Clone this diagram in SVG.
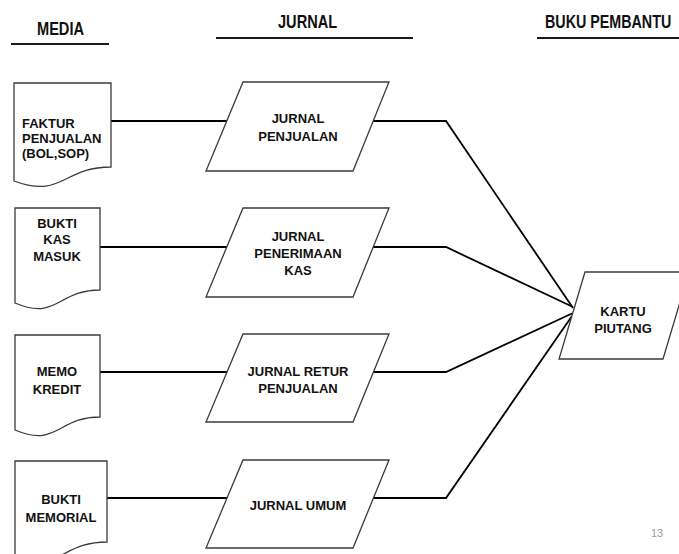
<svg xmlns="http://www.w3.org/2000/svg" width="679" height="554" viewBox="0 0 679 554">
  <style>
    .hdr { font-family: "Liberation Sans", Arial, sans-serif; font-weight: bold; font-size: 14.6px; fill: #111; }
    .rule { stroke: #1a1a1a; stroke-width: 2.2; }
    .lbl { font-family: "Liberation Sans", Arial, sans-serif; font-weight: bold; font-size: 13px; fill: #111; text-anchor: middle; }
    .lbl-l { text-anchor: start; }
    .shape { fill: #fff; stroke: #3a3a3a; stroke-width: 1.3; stroke-linejoin: miter; }
    .conn { fill: none; stroke: #000; stroke-width: 1.8; stroke-linejoin: miter; }
    .pg { font-family: "Liberation Sans", Arial, sans-serif; font-size: 11px; fill: #9a9a9a; }
  </style>
  <rect width="679" height="554" fill="#fff"/>

  <!-- column headings (tall, narrow lettering) -->
  <g id="headings">
    <text class="hdr" transform="translate(37,35) scale(1,1.22)">MEDIA</text>
    <line class="rule" x1="11" y1="44" x2="109" y2="44"/>
    <text class="hdr" transform="translate(278,28) scale(1,1.22)">JURNAL</text>
    <line class="rule" x1="216" y1="38" x2="413" y2="38"/>
    <text class="hdr" transform="translate(545,28) scale(1,1.22)" style="font-size:14.3px">BUKU PEMBANTU</text>
    <line class="rule" x1="537" y1="38" x2="679" y2="38"/>
  </g>

  <!-- connectors -->
  <g id="connectors">
    <polyline class="conn" points="111,121 228,121"/>
    <polyline class="conn" points="100,247 227,247"/>
    <polyline class="conn" points="100,372 227,372"/>
    <polyline class="conn" points="107,498 227,498"/>
    <polyline class="conn" points="373,121 446,121 573,308"/>
    <polyline class="conn" points="373,247 446,247 573,307"/>
    <polyline class="conn" points="373,372 446,372 573,313"/>
    <polyline class="conn" points="373,498 446,498 572,316"/>
  </g>

  <!-- source documents -->
  <g id="doc-faktur">
    <path class="shape" d="M14,83 H111 V167 C62.5,167 62.5,199 14,181 Z"/>
    <text class="lbl lbl-l" x="22" y="128">FAKTUR</text>
    <text class="lbl lbl-l" x="22" y="143">PENJUALAN</text>
    <text class="lbl lbl-l" x="22" y="158">(BOL,SOP)</text>
  </g>
  <g id="doc-bkm">
    <path class="shape" d="M15,208 H100 V290 C57.5,290 57.5,321 15,303 Z"/>
    <text class="lbl" x="57" y="228">BUKTI</text>
    <text class="lbl" x="57" y="244">KAS</text>
    <text class="lbl" x="57" y="261">MASUK</text>
  </g>
  <g id="doc-memo">
    <path class="shape" d="M15,335 H100 V417 C57.5,417 57.5,448 15,430 Z"/>
    <text class="lbl" x="57" y="376">MEMO</text>
    <text class="lbl" x="57" y="394">KREDIT</text>
  </g>
  <g id="doc-memorial">
    <path class="shape" d="M15,461 H107 V542 C61,542 61,573 15,555 Z"/>
    <text class="lbl" x="61" y="504">BUKTI</text>
    <text class="lbl" x="61" y="522">MEMORIAL</text>
  </g>

  <!-- journals -->
  <g id="jurnal-penjualan">
    <polygon class="shape" points="243,82 389,82 353,171 206,171"/>
    <text class="lbl" x="298" y="123">JURNAL</text>
    <text class="lbl" x="298" y="141">PENJUALAN</text>
  </g>
  <g id="jurnal-penerimaan-kas">
    <polygon class="shape" points="243,208 389,208 353,297 206,297"/>
    <text class="lbl" x="298" y="241">JURNAL</text>
    <text class="lbl" x="298" y="258">PENERIMAAN</text>
    <text class="lbl" x="298" y="275">KAS</text>
  </g>
  <g id="jurnal-retur">
    <polygon class="shape" points="243,334 389,334 353,422 206,422"/>
    <text class="lbl" x="298" y="376">JURNAL RETUR</text>
    <text class="lbl" x="298" y="393">PENJUALAN</text>
  </g>
  <g id="jurnal-umum">
    <polygon class="shape" points="243,460 389,460 353,548 206,548"/>
    <text class="lbl" x="298" y="510">JURNAL UMUM</text>
  </g>

  <!-- subsidiary ledger -->
  <g id="kartu-piutang">
    <polygon class="shape" points="585,272 689,272 663,359 559,359"/>
    <text class="lbl" x="623" y="316">KARTU</text>
    <text class="lbl" x="623" y="333">PIUTANG</text>
  </g>

  <text class="pg" x="651" y="537">13</text>
</svg>
